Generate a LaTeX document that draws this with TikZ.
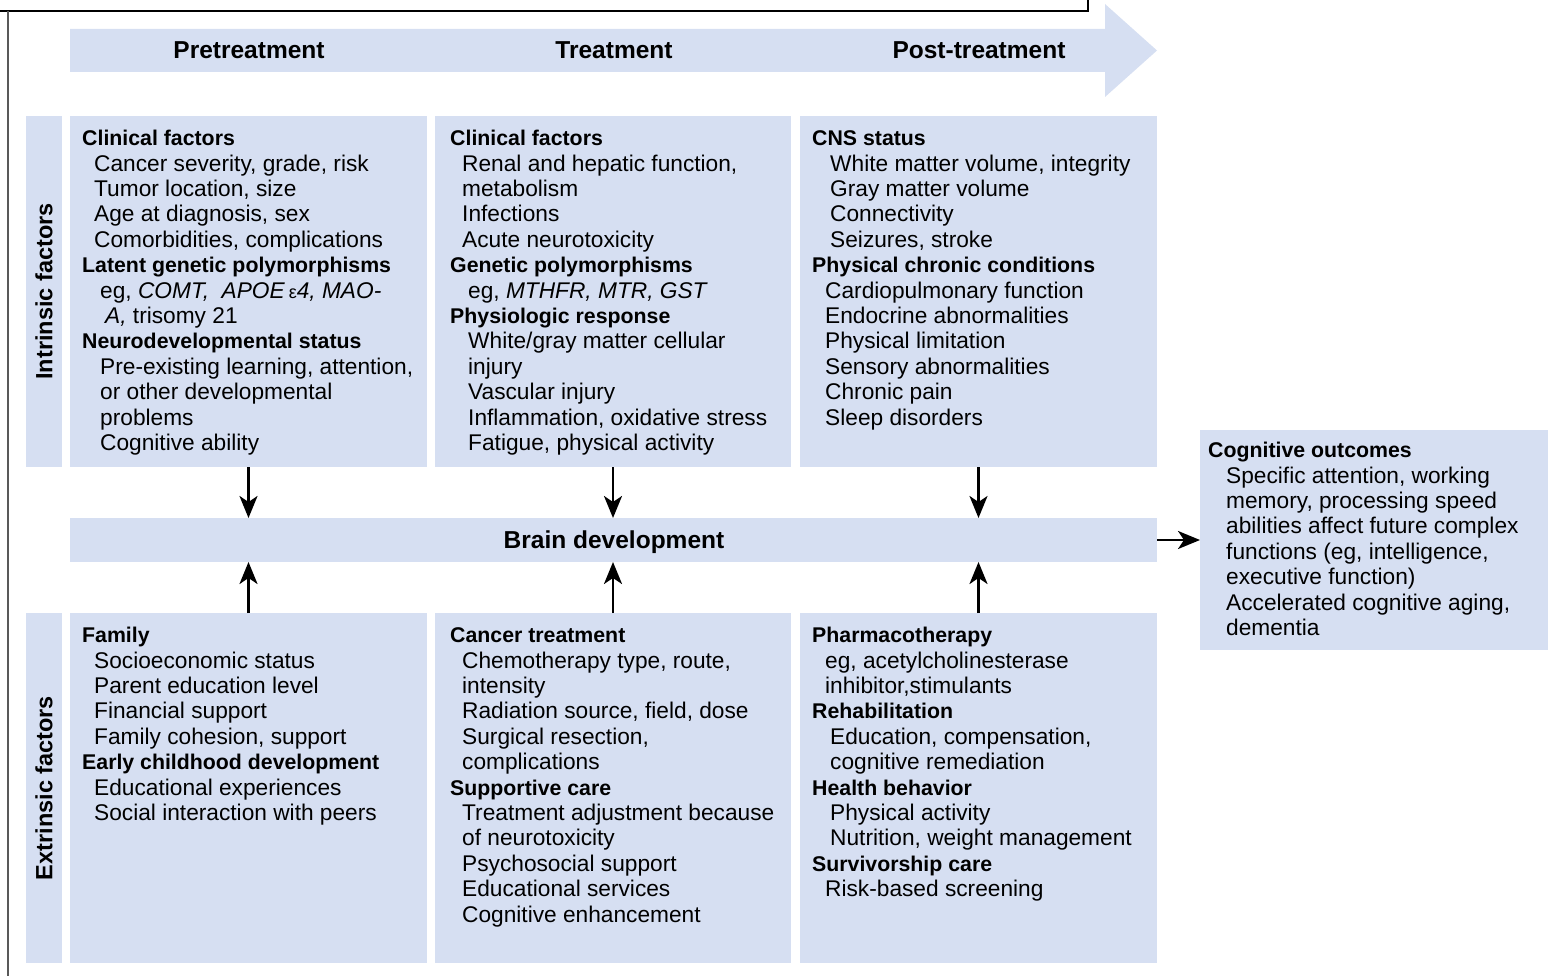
\documentclass[tikz,border=0pt]{standalone}
\usepackage{fontspec}
\setmainfont{Liberation Sans}
\usetikzlibrary{arrows.meta}
\definecolor{boxblue}{RGB}{214,223,242}
\newcommand\hdl[1]{{\bfseries\fontsize{21.3}{25.4}\selectfont #1}}
\newcommand\ind[1]{\hspace*{#1pt}}
\newcommand\fs{\rule{0pt}{18pt}}
\begin{document}
\begin{tikzpicture}[x=1pt,y=-1pt,
  panel/.style={fill=boxblue, draw=none, inner sep=0pt, outer sep=0pt, anchor=north west},
  body/.style={anchor=north west, inner sep=0pt, align=left, font=\fontsize{22.7}{25.4}\selectfont},
  lab/.style={font=\bfseries\fontsize{24.5}{29}\selectfont, anchor=base, inner sep=0pt},
  side/.style={font=\bfseries\fontsize{23.5}{28}\selectfont, anchor=base, rotate=90, inner sep=0pt},
  arr/.style={draw=black, line width=2.6pt, -{Stealth[length=22pt,width=18pt,inset=6pt]}}
]
\useasboundingbox (0,0) rectangle (1556,976);
% frame
\draw[line width=1.5pt] (0,11) -- (1088,11) -- (1088,0);
\draw[line width=1.8pt, black!65] (8,11) -- (8,976);
% header arrow
\fill[boxblue] (70,29) -- (1105,29) -- (1105,4) -- (1157,50.5) -- (1105,97) -- (1105,72) -- (70,72) -- cycle;
\node[lab] (lpre) at (249,58.8) {Pretreatment};
\node[lab] (ltr) at (614,58.8) {Treatment};
\node[lab] (lpost) at (979,58.8) {Post-treatment};
% side bars
\node[panel, minimum width=36pt, minimum height=351pt] (intr) at (26,116) {};
\node[panel, minimum width=36pt, minimum height=350pt] (extr) at (26,613) {};
\node[side] (lintr) at (52.4,291.5) {Intrinsic factors};
\node[side] (lextr) at (52.4,788) {Extrinsic factors};
% panels
\node[panel, minimum width=357pt, minimum height=351pt] (t1) at (70,116) {};
\node[panel, minimum width=356pt, minimum height=351pt] (t2) at (435,116) {};
\node[panel, minimum width=357pt, minimum height=351pt] (t3) at (800,116) {};
\node[panel, minimum width=357pt, minimum height=350pt] (b1) at (70,613) {};
\node[panel, minimum width=356pt, minimum height=350pt] (b2) at (435,613) {};
\node[panel, minimum width=357pt, minimum height=350pt] (b3) at (800,613) {};
\node[panel, minimum width=1087pt, minimum height=44pt] (brain) at (70,518) {};
\node[panel, minimum width=348pt, minimum height=220pt] (cog) at (1200,430) {};
\node[lab] (lbrain) at (614,548.8) {Brain development};
% texts
\node[body] (x1) at (82,127.5) {\fs\hdl{Clinical factors}\\
\ind{12}Cancer severity, grade, risk\\
\ind{12}Tumor location, size\\
\ind{12}Age at diagnosis, sex\\
\ind{12}Comorbidities, complications\\
\hdl{Latent genetic polymorphisms}\\
\ind{18}eg, \textit{COMT, \ APOE}\,{\fontsize{18}{25.4}\selectfont ε}\textit{4, MAO-}\\
\ind{23}\textit{A,} trisomy 21\\
\hdl{Neurodevelopmental status}\\
\ind{18}Pre-existing learning, attention,\\
\ind{18}or other developmental\\
\ind{18}problems\\
\ind{18}Cognitive ability};
\node[body] (x2) at (450,127.5) {\fs\hdl{Clinical factors}\\
\ind{12}Renal and hepatic function,\\
\ind{12}metabolism\\
\ind{12}Infections\\
\ind{12}Acute neurotoxicity\\
\hdl{Genetic polymorphisms}\\
\ind{18}eg, \textit{MTHFR, MTR, GST}\\
\hdl{Physiologic response}\\
\ind{18}White/gray matter cellular\\
\ind{18}injury\\
\ind{18}Vascular injury\\
\ind{18}Inflammation, oxidative stress\\
\ind{18}Fatigue, physical activity};
\node[body] (x3) at (812,127.5) {\fs\hdl{CNS status}\\
\ind{18}White matter volume, integrity\\
\ind{18}Gray matter volume\\
\ind{18}Connectivity\\
\ind{18}Seizures, stroke\\
\hdl{Physical chronic conditions}\\
\ind{13}Cardiopulmonary function\\
\ind{13}Endocrine abnormalities\\
\ind{13}Physical limitation\\
\ind{13}Sensory abnormalities\\
\ind{13}Chronic pain\\
\ind{13}Sleep disorders};
\node[body] (y1) at (82,624.5) {\fs\hdl{Family}\\
\ind{12}Socioeconomic status\\
\ind{12}Parent education level\\
\ind{12}Financial support\\
\ind{12}Family cohesion, support\\
\hdl{Early childhood development}\\
\ind{12}Educational experiences\\
\ind{12}Social interaction with peers};
\node[body] (y2) at (450,624.5) {\fs\hdl{Cancer treatment}\\
\ind{12}Chemotherapy type, route,\\
\ind{12}intensity\\
\ind{12}Radiation source, field, dose\\
\ind{12}Surgical resection,\\
\ind{12}complications\\
\hdl{Supportive care}\\
\ind{12}Treatment adjustment because\\
\ind{12}of neurotoxicity\\
\ind{12}Psychosocial support\\
\ind{12}Educational services\\
\ind{12}Cognitive enhancement};
\node[body] (y3) at (812,624.5) {\fs\hdl{Pharmacotherapy}\\
\ind{13}eg, acetylcholinesterase\\
\ind{13}inhibitor,stimulants\\
\hdl{Rehabilitation}\\
\ind{18}Education, compensation,\\
\ind{18}cognitive remediation\\
\hdl{Health behavior}\\
\ind{18}Physical activity\\
\ind{18}Nutrition, weight management\\
\hdl{Survivorship care}\\
\ind{13}Risk-based screening};
\node[body] (z1) at (1208,439.5) {\fs\hdl{Cognitive outcomes}\\
\ind{18}Specific attention, working\\
\ind{18}memory, processing speed\\
\ind{18}abilities affect future complex\\
\ind{18}functions (eg, intelligence,\\
\ind{18}executive function)\\
\ind{18}Accelerated cognitive aging,\\
\ind{18}dementia};
% connectors
\draw[arr] (t1.south) -- (t1.south |- brain.north);
\draw[arr] (t2.south) -- (t2.south |- brain.north);
\draw[arr] (t3.south) -- (t3.south |- brain.north);
\draw[arr] (b1.north) -- (b1.north |- brain.south);
\draw[arr] (b2.north) -- (b2.north |- brain.south);
\draw[arr] (b3.north) -- (b3.north |- brain.south);
\draw[arr] (brain.east) -- (cog.west |- brain.east);
\end{tikzpicture}
\end{document}
